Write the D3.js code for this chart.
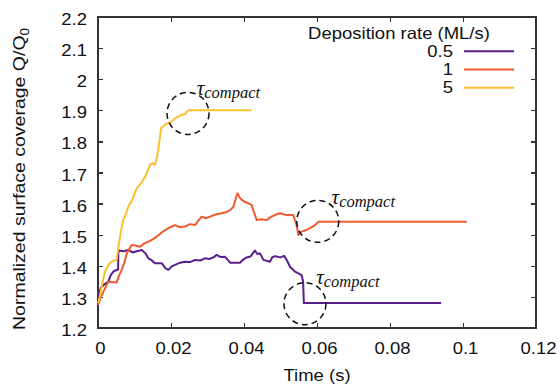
<!DOCTYPE html>
<html>
<head>
<meta charset="utf-8">
<script src="https://cdn.jsdelivr.net/npm/d3@7"></script>
<style>
  body { margin: 0; background: #fff; }
  svg { font-family: "Liberation Sans", Arial, sans-serif; }
  .axis path, .axis line { stroke: #333; stroke-width: 1.3; shape-rendering: crispEdges; }
  .axis text { font-size: 18.5px; fill: #111; }
  .tau { font-family: "Liberation Serif", "DejaVu Serif", serif; font-style: italic; fill: #111; }
</style>
</head>
<body>
<svg id="chart" width="560" height="387"></svg>
<script>
// series: [time (s), Q/Q0]
const rate05 = [[0,1.30],[0.0008,1.33],[0.0015,1.338],[0.0028,1.349],[0.0035,1.37],[0.0042,1.381],[0.0051,1.387],[0.0055,1.387],
  [0.0056,1.449],[0.0070,1.447],[0.0083,1.451],[0.0095,1.443],[0.0101,1.445],[0.012,1.451],[0.013,1.44],[0.0138,1.424],
  [0.0147,1.418],[0.0156,1.408],[0.0175,1.408],[0.0185,1.392],[0.0193,1.387],[0.0202,1.398],[0.0211,1.403],[0.0225,1.41],
  [0.0238,1.413],[0.0252,1.412],[0.0266,1.419],[0.028,1.417],[0.0293,1.424],[0.0305,1.422],[0.0316,1.427],[0.0325,1.435],
  [0.0336,1.428],[0.0348,1.429],[0.0362,1.41],[0.0389,1.41],[0.0398,1.42],[0.0407,1.427],[0.0418,1.43],[0.043,1.449],
  [0.0437,1.438],[0.0444,1.44],[0.0453,1.419],[0.0471,1.413],[0.0478,1.428],[0.0485,1.431],[0.0499,1.427],[0.0510,1.432],
  [0.0517,1.419],[0.0526,1.397],[0.054,1.381],[0.0558,1.37],[0.0562,1.349],[0.0564,1.28],[0.094,1.28]];
const rate1 = [[0,1.274],[0.0008,1.30],[0.0015,1.317],[0.0028,1.349],[0.0051,1.346],[0.0058,1.37],[0.0065,1.387],[0.0072,1.41],
  [0.0079,1.44],[0.0092,1.467],[0.0103,1.465],[0.0115,1.461],[0.0127,1.472],[0.0138,1.478],[0.015,1.485],[0.0161,1.494],
  [0.0172,1.505],[0.0184,1.515],[0.0198,1.524],[0.0211,1.531],[0.0225,1.524],[0.0238,1.526],[0.0252,1.534],[0.0266,1.531],
  [0.0275,1.545],[0.0284,1.558],[0.0295,1.553],[0.0307,1.558],[0.0322,1.565],[0.0339,1.569],[0.035,1.572],[0.0362,1.579],
  [0.0371,1.59],[0.0382,1.633],[0.0388,1.62],[0.0394,1.612],[0.0403,1.605],[0.0412,1.601],[0.0421,1.596],[0.0428,1.57],
  [0.0435,1.547],[0.0448,1.55],[0.0462,1.547],[0.0475,1.558],[0.0488,1.565],[0.0499,1.569],[0.0517,1.563],[0.0535,1.563],
  [0.0544,1.531],[0.0549,1.499],[0.0558,1.51],[0.057,1.515],[0.0581,1.521],[0.0595,1.531],[0.0604,1.542],[0.101,1.542]];
const rate5 = [[0,1.28],[0.0005,1.30],[0.001,1.333],[0.0019,1.381],[0.003,1.405],[0.0037,1.413],[0.0051,1.42],[0.0056,1.461],
  [0.0062,1.505],[0.0069,1.547],[0.0076,1.565],[0.0083,1.59],[0.0095,1.615],[0.0106,1.649],[0.0118,1.665],[0.0129,1.686],
  [0.0136,1.705],[0.0142,1.724],[0.015,1.73],[0.0156,1.725],[0.016,1.74],[0.0165,1.772],[0.0173,1.842],[0.0188,1.858],
  [0.02,1.862],[0.0211,1.874],[0.0229,1.885],[0.024,1.889],[0.0247,1.9],[0.042,1.9]];

const seriesNames = ['0.5', '1', '5'];
const seriesData = [rate05, rate1, rate5];
const seriesColors = ['#5a1e8c', '#ef5a2e', '#fbc02d'];

const xTicks = [0, 0.02, 0.04, 0.06, 0.08, 0.1, 0.12];
const yTicks = [1.2, 1.3, 1.4, 1.5, 1.6, 1.7, 1.8, 1.9, 2, 2.1, 2.2];

// tau_compact annotations: circle centre, label anchor
const circleCentres = [[0.02466, 1.890], [0.0602, 1.543], [0.0567, 1.278]];
const labelAnchors = [[0.02705, 1.949], [0.064, 1.600], [0.0598, 1.3415]];

const W = 560, H = 387;
const margin = { top: 17, right: 24, bottom: 59, left: 98 };
const svg = d3.select('#chart');
const squash = 'scale(1,0.88)'; // the original text is a little flattened

const x = d3.scaleLinear().domain([0, 0.12]).range([margin.left, W - margin.right]);
const y = d3.scaleLinear().domain([1.2, 2.2]).range([H - margin.bottom, margin.top]);
const tk = 5;

// axes, ticks pointing inward on all four sides
svg.append('g').attr('class', 'axis')
  .attr('transform', `translate(0,${H - margin.bottom})`)
  .call(d3.axisBottom(x).tickValues(xTicks).tickSize(-tk).tickFormat(d3.format('')))
  .selectAll('text').attr('y', null).attr('dy', null)
  .attr('transform', 'translate(2,26) ' + squash);
svg.append('g').attr('class', 'axis')
  .attr('transform', `translate(0,${margin.top})`)
  .call(d3.axisTop(x).tickValues(xTicks).tickSize(-tk).tickFormat(''));
svg.append('g').attr('class', 'axis')
  .attr('transform', `translate(${margin.left},0)`)
  .call(d3.axisLeft(y).tickValues(yTicks).tickSize(-tk).tickFormat(d3.format('')))
  .selectAll('text').attr('x', null).attr('dy', null)
  .attr('transform', 'translate(-11,7.5) ' + squash);
svg.append('g').attr('class', 'axis')
  .attr('transform', `translate(${W - margin.right},0)`)
  .call(d3.axisRight(y).tickValues(yTicks).tickSize(-tk).tickFormat(''));
svg.selectAll('.axis .domain').attr('d', null);
svg.append('rect')
  .attr('x', margin.left).attr('y', margin.top)
  .attr('width', W - margin.left - margin.right).attr('height', H - margin.top - margin.bottom)
  .attr('fill', 'none').attr('stroke', '#333').attr('stroke-width', 1.3).attr('shape-rendering', 'crispEdges');

// lines
const line = d3.line().x(d => x(d[0])).y(d => y(d[1]));
seriesData.forEach((s, i) => {
  svg.append('path').datum(s)
    .attr('fill', 'none')
    .attr('stroke', seriesColors[i])
    .attr('stroke-width', 2)
    .attr('stroke-linejoin', 'round')
    .attr('d', line);
});

// dashed circles
svg.selectAll('circle.ann').data(circleCentres).enter().append('circle')
  .attr('class', 'ann')
  .attr('cx', d => x(d[0])).attr('cy', d => y(d[1]))
  .attr('r', 21)
  .attr('fill', 'none').attr('stroke', '#111')
  .attr('stroke-width', 1.5).attr('stroke-dasharray', '6,4');

labelAnchors.forEach(d => {
  const t = svg.append('text').attr('class', 'tau')
    .attr('transform', `translate(${x(d[0])},${y(d[1])})`);
  t.append('tspan').attr('font-size', 21).text('τ');
  t.append('tspan').attr('font-size', 16.5).attr('dy', 3).text('compact');
});

// legend
const legX = 453, legY = 56.7, legStep = 18.3;
function label(px, py, str, anchor) {
  return svg.append('text')
    .attr('transform', `translate(${px},${py}) ${squash}`)
    .attr('text-anchor', anchor).attr('font-size', 18.5).attr('fill', '#111')
    .text(str);
}
label(399, 38.5, 'Deposition rate (ML/s)', 'middle');
seriesNames.forEach((n, i) => {
  const yy = legY + i * legStep;
  label(legX, yy, n, 'end');
  svg.append('line').attr('x1', 464).attr('x2', 514)
    .attr('y1', yy - 5.5).attr('y2', yy - 5.5)
    .attr('stroke', seriesColors[i]).attr('stroke-width', 2);
});

// axis titles
label((margin.left + W - margin.right) / 2, 381, 'Time (s)', 'middle');
// y title: runs from y=330 up to y=28 in the original
const yl = svg.append('text')
  .attr('text-anchor', 'start').attr('font-size', 17.4).attr('fill', '#111');
yl.append('tspan').text('Normalized surface coverage Q/Q');
yl.append('tspan').attr('font-size', 12).attr('dy', 4).text('0');
const ylLen = yl.node().getComputedTextLength();
yl.attr('transform', `translate(25,330) rotate(-90) scale(${302 / ylLen},1)`);
</script>
</body>
</html>
